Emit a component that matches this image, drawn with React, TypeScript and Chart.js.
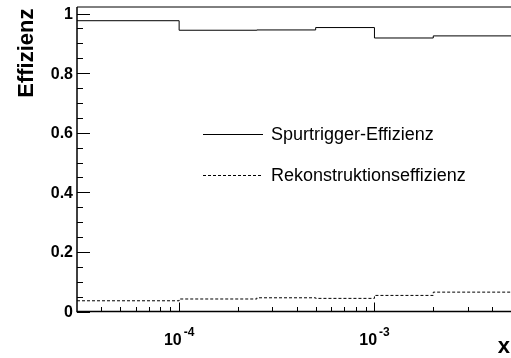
import React, { useEffect, useRef } from "react";
import { Chart, registerables } from "chart.js";

Chart.register(...registerables);

// Bin edges along x (log scale)
const binEdges = [3e-5, 1e-4, 2.5e-4, 5e-4, 1e-3, 2e-3, 5e-3];
// Efficiencies per bin
const triggerEff = [0.976, 0.944, 0.945, 0.953, 0.918, 0.925];
const recoEff = [0.036, 0.042, 0.046, 0.044, 0.054, 0.065];

const seriesLabels = ["Spurtrigger-Effizienz", "Rekonstruktionseffizienz"];

const yTickValues = [0, 0.2, 0.4, 0.6, 0.8, 1];
const yTickLabels = ["0", "0.2", "0.4", "0.6", "0.8", "1"];
const xTickValues = [1e-4, 1e-3];
const xTickExponents = ["-4", "-3"];

const xTitle = "x";
const yTitle = "Effizienz";

function toSteps(vals: number[]) {
  return binEdges.map((e, i) => ({ x: e, y: vals[Math.min(i, vals.length - 1)] }));
}

const rootAxesPlugin = {
  id: "rootAxes",
  afterDraw(chart: any) {
    const { ctx, chartArea } = chart;
    const xs = chart.scales.x;
    const ys = chart.scales.y;
    const { left, right, top, bottom } = chartArea;
    ctx.save();
    ctx.fillStyle = "#000";
    ctx.strokeStyle = "#000";

    // frame top
    ctx.lineWidth = 1;
    ctx.beginPath();
    ctx.moveTo(left, 7);
    ctx.lineTo(right, 7);
    ctx.stroke();

    // axes lines
    ctx.lineWidth = 1.5;
    ctx.beginPath();
    ctx.moveTo(left, top);
    ctx.lineTo(left, bottom);
    ctx.lineTo(right, bottom);
    ctx.stroke();

    // y ticks
    ctx.lineWidth = 1;
    ctx.beginPath();
    for (let k = 0; k <= 20; k++) {
      const v = k * 0.05;
      const py = Math.round(ys.getPixelForValue(v)) + 0.5;
      const len = k % 4 === 0 ? 13 : 6;
      ctx.moveTo(left, py);
      ctx.lineTo(left + len, py);
    }
    // x ticks
    const min = xs.min, max = xs.max;
    for (let d = -5; d <= -2; d++) {
      for (let m = 1; m <= 9; m++) {
        const v = m * Math.pow(10, d);
        if (v < min * 1.0001 || v > max * 0.9999) continue;
        const px = Math.round(xs.getPixelForValue(v)) + 0.5;
        const len = m === 1 ? 9 : 4.5;
        ctx.moveTo(px, bottom);
        ctx.lineTo(px, bottom - len);
      }
    }
    ctx.stroke();

    // y tick labels
    ctx.font = "bold 16px 'Liberation Sans', Arial, sans-serif";
    ctx.textAlign = "right";
    ctx.textBaseline = "middle";
    yTickValues.forEach((v, i) => {
      ctx.fillText(yTickLabels[i], left - 4, ys.getPixelForValue(v) + 1);
    });

    // x tick labels 10^n
    xTickValues.forEach((v, i) => {
      const px = xs.getPixelForValue(v);
      ctx.font = "bold 16px 'Liberation Sans', Arial, sans-serif";
      const wBase = ctx.measureText("10").width;
      ctx.font = "bold 12px 'Liberation Sans', Arial, sans-serif";
      const wExp = ctx.measureText(xTickExponents[i]).width;
      const total = wBase + 2 + wExp;
      const x0 = px - total / 2;
      ctx.textAlign = "left";
      ctx.textBaseline = "alphabetic";
      ctx.font = "bold 16px 'Liberation Sans', Arial, sans-serif";
      ctx.fillText("10", x0, 345);
      ctx.font = "bold 12px 'Liberation Sans', Arial, sans-serif";
      ctx.fillText(xTickExponents[i], x0 + wBase + 2, 336);
    });

    // axis titles
    ctx.font = "bold 22px 'Liberation Sans', Arial, sans-serif";
    ctx.textAlign = "right";
    ctx.textBaseline = "alphabetic";
    ctx.fillText(xTitle, 510, 353);

    ctx.save();
    ctx.translate(33, 8.5);
    ctx.rotate(-Math.PI / 2);
    ctx.textAlign = "right";
    ctx.fillText(yTitle, 0, 0);
    ctx.restore();

    // legend
    const legendY = [134.5, 175.5];
    chart.data.datasets.forEach((ds: any, i: number) => {
      ctx.lineWidth = 1;
      ctx.setLineDash(ds.borderDash || []);
      ctx.beginPath();
      ctx.moveTo(203, legendY[i]);
      ctx.lineTo(263, legendY[i]);
      ctx.stroke();
      ctx.setLineDash([]);
      ctx.font = "18px 'Liberation Sans', Arial, sans-serif";
      ctx.textAlign = "left";
      ctx.textBaseline = "middle";
      ctx.fillText(ds.label, 271, legendY[i] + 0.5);
    });

    ctx.restore();
  },
};

export default function App() {
  const ref = useRef<HTMLCanvasElement | null>(null);
  useEffect(() => {
    document.body.style.margin = "0";
    const canvas = ref.current;
    if (!canvas) return;
    const chart = new Chart(canvas, {
      type: "line",
      data: {
        datasets: [
          {
            label: seriesLabels[0],
            data: toSteps(triggerEff),
            borderColor: "#000",
            borderWidth: 1,
            pointRadius: 0,
            stepped: true,
            fill: false,
          },
          {
            label: seriesLabels[1],
            data: toSteps(recoEff),
            borderColor: "#000",
            borderWidth: 1,
            borderDash: [3, 2],
            pointRadius: 0,
            stepped: true,
            fill: false,
          },
        ],
      },
      options: {
        animation: false,
        responsive: false,
        maintainAspectRatio: false,
        layout: { padding: { left: 77, top: 7, right: 0, bottom: 46.5 } },
        plugins: { legend: { display: false }, tooltip: { enabled: false } },
        scales: {
          x: { type: "logarithmic", min: 3e-5, max: 5e-3, display: false },
          y: { type: "linear", min: 0, max: 1.022, display: false },
        },
      },
      plugins: [rootAxesPlugin],
    } as any);
    return () => chart.destroy();
  }, []);
  return (
    <div style={{ position: "fixed", left: 0, top: 0, width: 511, height: 358, background: "#fff" }}>
      <canvas ref={ref} width={511} height={358} />
    </div>
  );
}
